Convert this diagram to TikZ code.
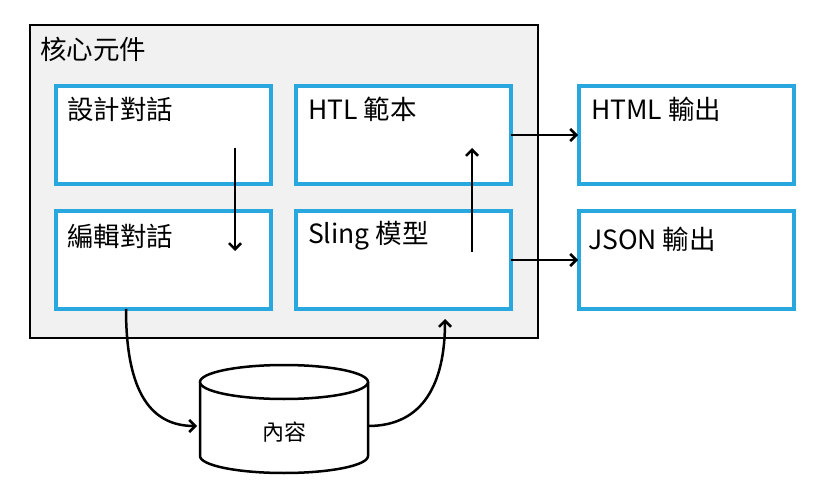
\documentclass[tikz,border=0pt]{standalone}
\usepackage{fontspec}
\setmainfont{Noto Sans CJK TC}
\usetikzlibrary{arrows.meta,calc}
\definecolor{bluebox}{HTML}{29A8E0}
\definecolor{grayfill}{HTML}{F1F1F1}
\begin{document}
\begin{tikzpicture}[x=1pt,y=-1pt,
  box/.style={draw=bluebox, line width=3.5pt, fill=white, minimum width=215pt, minimum height=98pt, anchor=north west, inner sep=0pt, outer sep=0pt},
  txt/.style={anchor=west, inner sep=0pt, font=\fontsize{26.5}{30}\selectfont},
  arr/.style={draw=black, line width=2.5pt, -{Straight Barb[length=6pt,width=12pt]}}
]
\useasboundingbox (0,0) rectangle (827,494);
% outer
\node[draw=black, line width=2.5pt, fill=grayfill, minimum width=508pt, minimum height=313pt, anchor=north west, inner sep=0pt, outer sep=0pt] (core) at (30,25) {};
\node[txt] (coret) at (40,49) {核心元件};
% boxes
\node[box] (b1) at (56,86) {};
\node[box] (b2) at (296,86) {};
\node[box] (b3) at (56,211) {};
\node[box] (b4) at (296,211) {};
\node[box] (b5) at (579,86) {};
\node[box] (b6) at (579,211) {};
\node[txt] (t1) at (67,109) {設計對話};
\node[txt] (t2) at (308,109) {HTL 範本};
\node[txt] (t3) at (67,236) {編輯對話};
\node[txt] (t4) at (308,236) {Sling 模型};
\node[txt] (t5) at (591,109) {HTML 輸出};
\node[txt] (t6) at (588,239) {JSON 輸出};
% cylinder
\fill[white] (200,382) -- (200,456) arc[start angle=180,end angle=360,x radius=84pt,y radius=17pt] -- (368,382) -- cycle;
\draw[line width=2.5pt] (200,382) -- (200,456) arc[start angle=180,end angle=360,x radius=84pt,y radius=17pt] -- (368,382);
\draw[line width=2.5pt, fill=white] (284,382) ellipse [x radius=84pt, y radius=17pt];
\node[minimum width=168pt, minimum height=90pt, inner sep=0pt, outer sep=0pt] (cyl) at (284,426) {};
\node[font=\fontsize{22}{26}\selectfont, inner sep=0pt] (cylt) at (284,432) {內容};
% arrows
\draw[arr] ($(b1.north west)+(179,62)$) -- ($(b3.north west)+(179,40)$);
\draw[arr] ($(b4.north west)+(176,41)$) -- ($(b2.north west)+(176,62)$);
\draw[arr, shorten >=1pt] (b2.east) -- (b5.west);
\draw[arr, shorten >=1pt] (b4.east) -- (b6.west);
\draw[arr] ($(b3.south west)+(70,0)$) .. controls +(0,85) and +(-45,0) .. ($(cyl.west)+(-3,0)$);
\draw[arr] (cyl.east) .. controls +(55,0) and +(0,65) .. ($(b4.south west)+(149,10)$);
\end{tikzpicture}
\end{document}
